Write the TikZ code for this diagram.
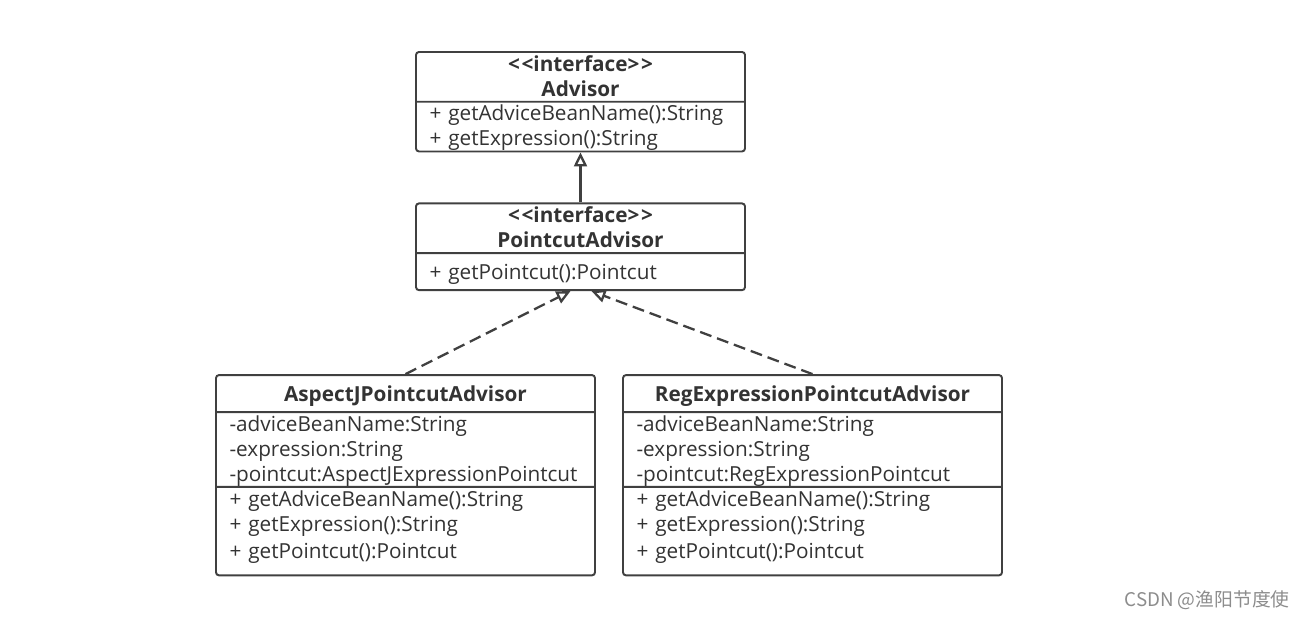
\documentclass[tikz,border=0pt]{standalone}
\usepackage{fontspec}
\setmainfont{Open Sans}
\newfontfamily\cjkfont{Noto Sans CJK SC}
\usetikzlibrary{shapes.multipart, arrows.meta, positioning}

\definecolor{umlline}{HTML}{404040}
\definecolor{umltext}{HTML}{333333}
\newcommand{\sline}{\rule[-0.11cm]{0pt}{0.495cm}}
\newcommand{\wide}{\rule[-0.22cm]{0pt}{0.74cm}}
\newcommand{\lastgap}{\rule[-0.34cm]{0pt}{0.74cm}}
\newcommand{\stereo}{<\kern1pt<interface>\kern1pt>}

\tikzset{
	umlclass/.style={draw=umlline, line width=1.1pt, rounded corners=0.06cm,
		rectangle split, rectangle split parts=#1, inner xsep=0.27cm, inner ysep=-0.55pt,
		text=umltext, font=\fontsize{11.8pt}{0.5cm}\selectfont},
	topclass/.style={umlclass=2, text width=6.04cm},
	subclass/.style={umlclass=3, text width=7.04cm},
	generalize/.style={draw=umlline, line width=1.3pt, -{Triangle[open, length=0.28cm, width=0.26cm]}},
	realize/.style={generalize, dash pattern=on 0.24cm off 0.12cm}
}

\begin{document}
\begin{tikzpicture}
	\useasboundingbox (0,0) rectangle (26.2,-12.38);
	\node[topclass, anchor=north] (adv) at (11.61,-1.02) {\bfseries\parbox{6.04cm}{\centering\sline\stereo\\\sline Advisor}
		\nodepart{two}\sline+ getAdviceBeanName():String\\\sline+ getExpression():String};
	\node[topclass, below=1.0cm of adv] (pa) {\bfseries\parbox{6.04cm}{\centering\sline\stereo\\\sline PointcutAdvisor}
		\nodepart{two}\wide+ getPointcut():Pointcut};
	\node[subclass, below=1.66cm of pa, xshift=-3.5cm] (aj) {\bfseries\centerline{\wide AspectJPointcutAdvisor}
		\nodepart{two}\sline-adviceBeanName:String\\\sline-expression:String\\\sline-pointcut:AspectJExpressionPointcut
		\nodepart{three}\sline+ getAdviceBeanName():String\\\sline+ getExpression():String\\\lastgap+ getPointcut():Pointcut};
	\node[subclass, below=1.66cm of pa, xshift=4.64cm] (reg) {\bfseries\centerline{\wide RegExpressionPointcutAdvisor}
		\nodepart{two}\sline-adviceBeanName:String\\\sline-expression:String\\\sline-pointcut:RegExpressionPointcut
		\nodepart{three}\sline+ getAdviceBeanName():String\\\sline+ getExpression():String\\\lastgap+ getPointcut():Pointcut};
	\draw[generalize] (pa.north) -- (adv.south);
	\draw[realize] (aj.north) -- ([xshift=-0.2cm]pa.south);
	\draw[realize] (reg.north) -- ([xshift=0.22cm]pa.south);
	\node[anchor=east, text=black!45, font=\cjkfont\fontsize{10.7pt}{13pt}\selectfont] (wm) at (25.92,-12.0) {CSDN @渔阳节度使};
\end{tikzpicture}
\end{document}
